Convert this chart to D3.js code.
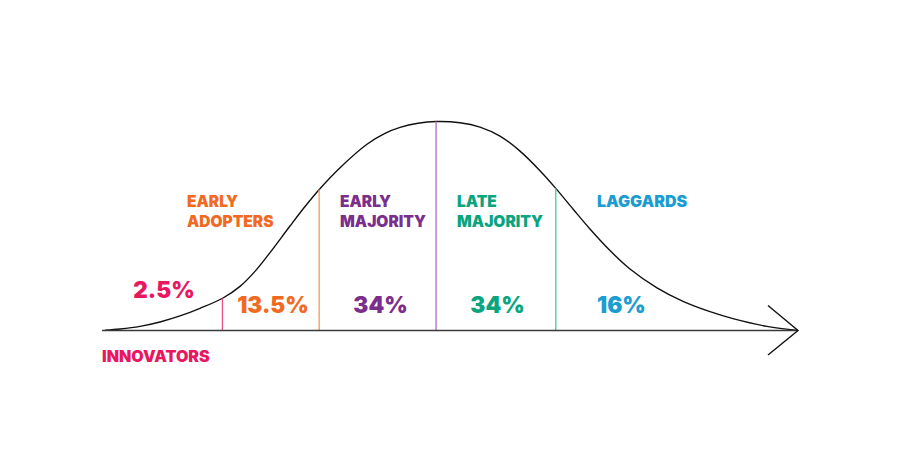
<!DOCTYPE html>
<html>
<head>
<meta charset="utf-8">
<script src="https://cdn.jsdelivr.net/npm/d3@7"></script>
<style>
  html, body { margin: 0; padding: 0; background: #ffffff; }
  svg { display: block; }
  text { font-family: Inter, Lato, "Noto Sans", sans-serif; font-weight: 900; }
</style>
</head>
<body>
<svg id="chart" width="900" height="450"></svg>
<script>
// ---- data (adoption time 0-100, relative adopters 0-100 at peak) ----
const curveTime  = [0.43, 2.59, 5.46, 8.33, 11.21, 14.08, 17.39, 19.83, 21.98, 24.14, 27.01, 29.17, 31.18, 34.20, 38.07, 40.66, 42.82, 45.40, 47.99, 51.44, 54.31, 57.18, 60.06, 62.93, 65.23, 67.67, 70.11, 72.99, 75.86, 79.74, 83.48, 87.36, 90.66, 95.55, 100];
const curveShare = [0.17, 0.74, 1.99, 4.09, 6.96, 10.60, 15.55, 21.10, 28.28, 37.25, 49.98, 59.31, 67.34, 77.89, 89.14, 94.31, 97.18, 99.19, 100, 99.43, 97.32, 93.01, 85.84, 76.46, 67.89, 58.13, 48.56, 38.23, 29.43, 20.38, 13.92, 9.00, 5.69, 1.96, 0];
const boundaries = [17.3, 31.2, 48.0, 65.2];
const segments   = ["INNOVATORS", "EARLY ADOPTERS", "EARLY MAJORITY", "LATE MAJORITY", "LAGGARDS"];
const shares     = ["2.5%", "13.5%", "34%", "34%", "16%"];
const segColors  = ["#e8185f", "#f26a21", "#7b2f8c", "#0aa57f", "#1a9dd1"];
const lineColors = ["#ec4f86", "#f49a62", "#ad6cc0", "#4cc3a6"];

// ---- layout ----
const svg = d3.select("#chart");
const x = d3.scaleLinear().domain([0, 100]).range([102, 798]);
const y = d3.scaleLinear().domain([0, 100]).range([330.5, 121.5]);

const pts = curveTime.map((t, i) => [t, curveShare[i]]);
const line = d3.line().x(d => x(d[0])).y(d => y(d[1])).curve(d3.curveCatmullRom.alpha(0.5));

// curve
const curvePath = svg.append("path")
  .attr("d", line(pts))
  .attr("fill", "none")
  .attr("stroke", "#111")
  .attr("stroke-width", 1.4);

// curve height at a given pixel x
const pathNode = curvePath.node();
const total = pathNode.getTotalLength();
function curveYAt(px) {
  let lo = 0, hi = total;
  for (let k = 0; k < 40; k++) {
    const mid = (lo + hi) / 2;
    const p = pathNode.getPointAtLength(mid);
    if (p.x < px) lo = mid; else hi = mid;
  }
  return pathNode.getPointAtLength((lo + hi) / 2).y;
}

// segment divider lines
svg.selectAll("line.div").data(boundaries).enter().append("line")
  .attr("class", "div")
  .attr("x1", d => x(d)).attr("x2", d => x(d))
  .attr("y1", y(0)).attr("y2", d => curveYAt(x(d)))
  .attr("stroke", (d, i) => lineColors[i])
  .attr("stroke-width", 1.3);

// baseline axis with arrow
svg.append("line")
  .attr("x1", x(0)).attr("x2", x(100))
  .attr("y1", y(0)).attr("y2", y(0))
  .attr("stroke", "#3a3a3a").attr("stroke-width", 1.6);
svg.append("path")
  .attr("d", `M${x(100) - 30},${y(0) - 25} L${x(100)},${y(0)} L${x(100) - 30},${y(0) + 24.5}`)
  .attr("fill", "none").attr("stroke", "#111").attr("stroke-width", 1.4);

// category names (left-aligned)
const nameLayout = [
  { x: 102, y: 362, size: 16 },
  { x: 187, y: 207, size: 15.5 },
  { x: 340, y: 207, size: 15.5 },
  { x: 457, y: 207, size: 15.5 },
  { x: 597, y: 207, size: 16 }
];
const lineGap = 20;
segments.forEach((name, i) => {
  const words = i === 0 || i === 4 ? [name] : name.split(" ");
  const t = svg.append("text")
    .attr("x", nameLayout[i].x).attr("y", nameLayout[i].y)
    .attr("fill", segColors[i])
    .style("font-size", nameLayout[i].size + "px");
  words.forEach((w, j) => {
    t.append("tspan").attr("x", nameLayout[i].x).attr("y", nameLayout[i].y + j * lineGap).text(w);
  });
});

// share labels
const shareLayout = [
  { x: 164, y: 298, anchor: "middle" },
  { x: 273, y: 313, anchor: "middle" },
  { x: 380.5, y: 313, anchor: "middle" },
  { x: 497.5, y: 313, anchor: "middle" },
  { x: 597, y: 313, anchor: "start" }
];
svg.selectAll("text.share").data(shares).enter().append("text")
  .attr("class", "share")
  .attr("x", (d, i) => shareLayout[i].x)
  .attr("y", (d, i) => shareLayout[i].y)
  .attr("text-anchor", (d, i) => shareLayout[i].anchor)
  .attr("fill", (d, i) => segColors[i])
  .style("font-size", "22.5px")
  .text(d => d);
</script>
</body>
</html>
